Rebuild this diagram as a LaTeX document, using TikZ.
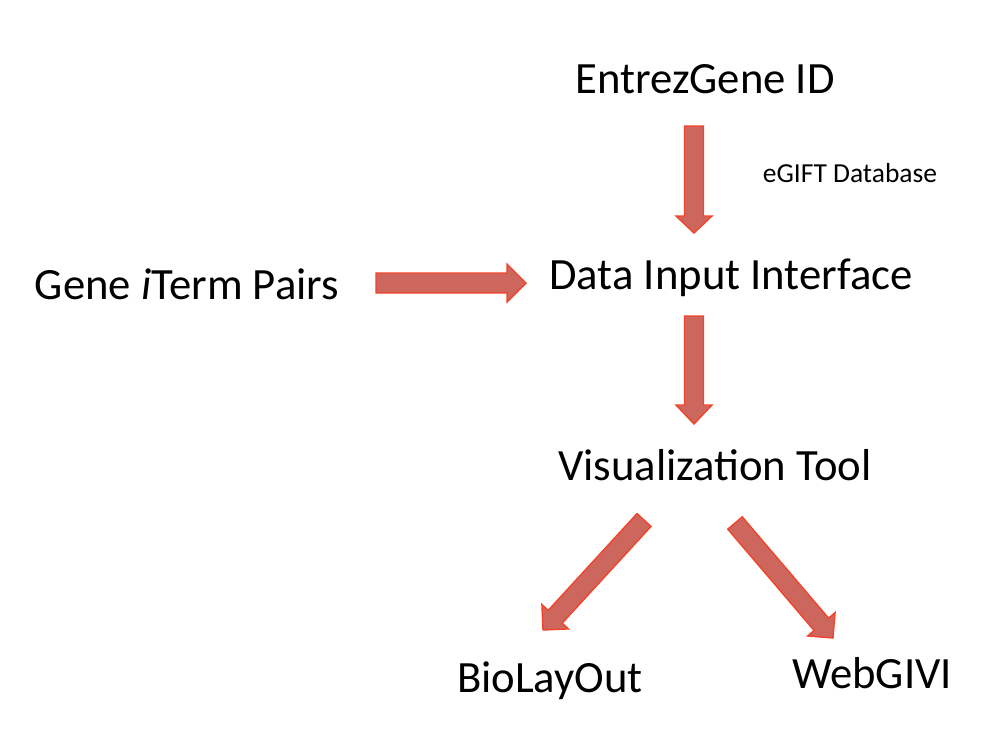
\documentclass[tikz,border=0pt]{standalone}
\usepackage{fontspec}
\setmainfont{Carlito}
\usetikzlibrary{calc}
\definecolor{arrfill}{HTML}{CD665D}
\definecolor{arrline}{HTML}{F2442A}
\tikzset{
  big/.style={font=\fontsize{44.7}{52}\selectfont, inner sep=0pt, anchor=base},
  small/.style={font=\fontsize{27.5}{32}\selectfont, inner sep=0pt, anchor=base},
  blk/.style={fill=arrfill, draw=arrline, line width=1.4pt, line join=miter},
}
% \barrow{tail}{tip}{shaft half width}{head half width}{head length}
\newcommand{\barrow}[5]{%
  \coordinate (hb) at ($(#2)!#5!(#1)$);
  \draw[blk] ($(#1)!#3!90:(#2)$) -- ($(hb)!#3!90:(#2)$) -- ($(hb)!#4!90:(#2)$)
    -- (#2) -- ($(hb)!#4!-90:(#2)$) -- ($(hb)!#3!-90:(#2)$) -- ($(#1)!#3!-90:(#2)$) -- cycle;
}
\begin{document}
\begin{tikzpicture}[x=1pt,y=-1pt]
\useasboundingbox (0,0) rectangle (1000,750);
\node[big] (entrez) at (705,93) {EntrezGene ID};
\node[small] (egift) at (850,182) {eGIFT Database};
\node[big] (pairs) at (187,299) {Gene \textit{i}Term Pairs};
\node[big] (dii) at (731,289) {Data Input Interface};
\node[big] (vis) at (715,480) {Visualization Tool};
\node[big] (bio) at (550,692) {BioLayOut};
\node[big] (web) at (872,688) {WebGIVI};
% arrow end points
\coordinate (a1t) at (694,126);
\coordinate (a1h) at (694,233);
\coordinate (a2t) at (376,283);
\coordinate (a2h) at (526,283);
\coordinate (a3t) at (694,316);
\coordinate (a3h) at (694,424);
\coordinate (a4t) at (644,520);
\coordinate (a4h) at (543,630);
\coordinate (a5t) at (735,523);
\coordinate (a5h) at (833,638);
\barrow{a1t}{a1h}{9.5pt}{18pt}{17pt}
\barrow{a2t}{a2h}{10pt}{19pt}{19pt}
\barrow{a3t}{a3h}{9.5pt}{18pt}{19pt}
\barrow{a4t}{a4h}{9.5pt}{18pt}{18pt}
\barrow{a5t}{a5h}{9.5pt}{18pt}{18pt}
\end{tikzpicture}
\end{document}
